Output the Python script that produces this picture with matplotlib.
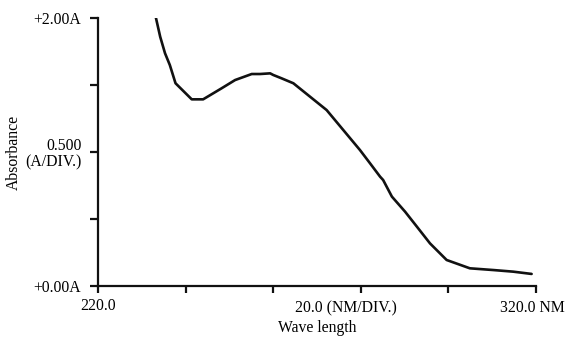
import matplotlib
matplotlib.use("Agg")
import matplotlib.pyplot as plt
import matplotlib.transforms as mtransforms

# data
wavelength = [233.2, 234.2, 235.3, 236.4, 237.7, 241.4, 244.0, 248.2, 251.3, 255.1,
              257.0, 259.3, 260.0, 261.9, 264.6, 268.4, 272.2, 276.0, 279.8, 282.1,
              284.4, 285.1, 287.1, 290.1, 292.8, 295.8, 299.6, 304.9, 310.3, 314.8,
              319.0]
absorbance = [2.005, 1.86, 1.737, 1.649, 1.513, 1.393, 1.393, 1.475, 1.537, 1.582,
              1.582, 1.587, 1.575, 1.55, 1.513, 1.413, 1.313, 1.164, 1.015, 0.916,
              0.816, 0.791, 0.667, 0.555, 0.443, 0.318, 0.194, 0.132, 0.119, 0.107,
              0.09]
x_ticks = [220, 240, 260, 280, 300, 320]
x_tick_labels = ["220.0", "", "", "", "", ""]
y_ticks = [0.0, 0.5, 1.0, 1.5, 2.0]
y_tick_labels = ["+0.00A", "", "0.500\n(A/DIV.)", "", "+2.00A"]

plt.rcParams['font.family'] = ['Liberation Serif', 'DejaVu Serif']
fs = 11.3

fig = plt.figure(figsize=(5.73, 3.38), dpi=100)
W, H = 573, 338
ax = fig.add_axes([98 / W, 1 - 286 / H, (536 - 98) / W, (286 - 18) / H])
ax.plot(wavelength, absorbance, color='#111111', lw=1.9,
        solid_joinstyle='round', solid_capstyle='round')
ax.set_xlim(220, 320)
ax.set_ylim(0, 2.0)
for s in ['top', 'right']:
    ax.spines[s].set_visible(False)
for s in ['left', 'bottom']:
    ax.spines[s].set_linewidth(1.6)
    ax.spines[s].set_color('#111111')
ax.set_xticks(x_ticks)
ax.set_xticklabels(x_tick_labels, fontsize=fs)
ax.set_yticks(y_ticks)
ax.set_yticklabels(y_tick_labels, fontsize=fs, linespacing=1.0)
ax.tick_params(axis='x', direction='out', length=5, width=1.6, pad=4, color='#111111')
ax.tick_params(axis='y', direction='out', length=6, width=1.6, pad=6, color='#111111')
ax.patch.set_visible(False)

trans = mtransforms.blended_transform_factory(ax.transData, fig.transFigure)
ax.text(265.0, 1 - 308 / H, "20.0 (NM/DIV.)", transform=trans, fontsize=fs,
        ha='left', va='center')
ax.text(311.8, 1 - 308 / H, "320.0 NM", transform=trans, fontsize=fs,
        ha='left', va='center')
fig.text((98 + 536) / 2 / W, 1 - 328 / H, "Wave length", fontsize=fs,
         ha='center', va='center')
fig.text(14 / W, 1 - 152 / H, "Absorbance", fontsize=fs, rotation=90,
         ha='center', va='center')

fig.savefig("out.png", dpi=100)
